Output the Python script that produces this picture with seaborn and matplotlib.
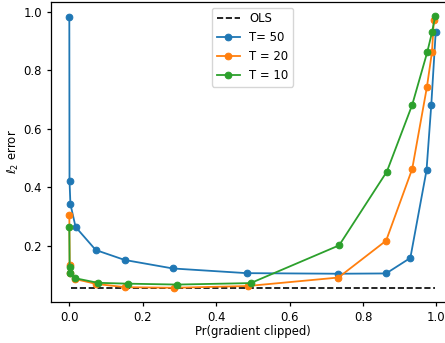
import matplotlib
matplotlib.use("Agg")
import matplotlib.pyplot as plt
import seaborn as sns
import pandas as pd

# Data
ols_x = [0.004, 0.997]
ols_y = [0.054, 0.054]

t50_x = [0.0, 0.0005, 0.003, 0.017, 0.072, 0.151, 0.282, 0.483, 0.733, 0.863, 0.929, 0.973, 0.986, 0.998]
t50_y = [0.98, 0.422, 0.342, 0.264, 0.185, 0.151, 0.122, 0.106, 0.104, 0.105, 0.158, 0.457, 0.681, 0.929]

t20_x = [0.0, 0.001, 0.003, 0.015, 0.074, 0.153, 0.285, 0.486, 0.733, 0.863, 0.934, 0.974, 0.988, 0.993]
t20_y = [0.303, 0.134, 0.108, 0.086, 0.069, 0.058, 0.056, 0.062, 0.091, 0.217, 0.462, 0.741, 0.863, 0.971]

t10_x = [0.0, 0.0008, 0.002, 0.015, 0.077, 0.161, 0.294, 0.494, 0.735, 0.865, 0.934, 0.975, 0.988, 0.997]
t10_y = [0.264, 0.126, 0.106, 0.089, 0.073, 0.070, 0.067, 0.072, 0.201, 0.453, 0.681, 0.861, 0.929, 0.986]

series_labels = ["T= 50", "T = 20", "T = 10"]
series_x = [t50_x, t20_x, t10_x]
series_y = [t50_y, t20_y, t10_y]
colors = ["#1f77b4", "#ff7f0e", "#2ca02c"]

plt.rcParams["font.size"] = 8.4
plt.rcParams["axes.linewidth"] = 0.9
plt.rcParams["xtick.major.width"] = 0.9
plt.rcParams["ytick.major.width"] = 0.9
plt.rcParams["xtick.major.size"] = 3
plt.rcParams["ytick.major.size"] = 3

fig = plt.figure(figsize=(4.45, 3.43), dpi=100)
ax = fig.add_axes([51 / 445, 41 / 343, (454 - 51) / 445, 300 / 343])

ax.plot(ols_x, ols_y, "k--", lw=1.2, label="OLS")

for lab, xs, ys, c in zip(series_labels, series_x, series_y, colors):
    df = pd.DataFrame({"x": xs, "y": ys})
    sns.lineplot(data=df, x="x", y="y", sort=False, marker="o", markersize=4.8,
                 markeredgecolor=c, color=c, lw=1.3, label=lab, ax=ax, estimator=None)

ax.set_xlabel("Pr(gradient clipped)", labelpad=1)
ax.set_ylabel(r"$\ell_2$ error", labelpad=1.5)
ax.set_xticks([0.0, 0.2, 0.4, 0.6, 0.8, 1.0])
ax.set_yticks([0.2, 0.4, 0.6, 0.8, 1.0])
ax.legend(loc="upper center")

fig.savefig("out.png", dpi=100)
